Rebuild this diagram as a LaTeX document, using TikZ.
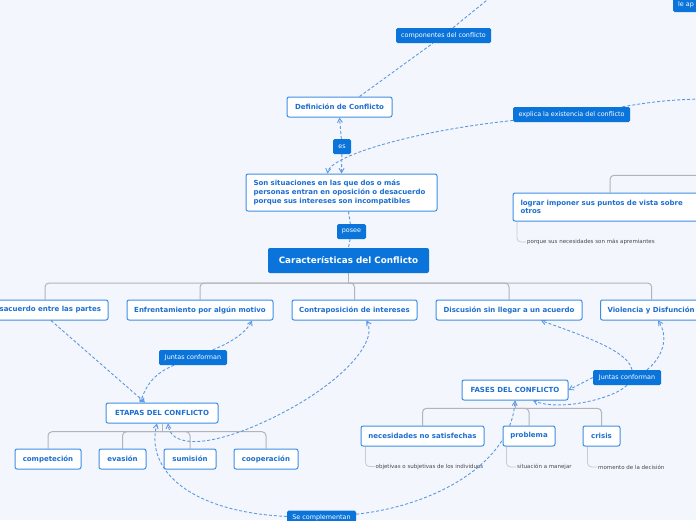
\documentclass[tikz,border=0pt]{standalone}
\usepackage{fontspec}
\setmainfont{DejaVu Sans}
\usepackage{xcolor}
\usepackage{tikz}
\usetikzlibrary{arrows,backgrounds}
\definecolor{bgcol}{RGB}{243,246,253}
\definecolor{boxblue}{RGB}{10,116,218}
\definecolor{edgeblue}{RGB}{60,142,230}
\definecolor{txtblue}{RGB}{28,110,208}
\definecolor{linkblue}{RGB}{92,152,226}
\definecolor{treegray}{RGB}{178,180,186}
\definecolor{subgray}{RGB}{70,72,80}

\begin{document}
\begin{tikzpicture}[x=1pt,y=-1pt,>=angle 60,
  topic/.style={draw=edgeblue,line width=1pt,fill=white,rounded corners=2pt,text=txtblue,
    font=\fontsize{7}{8.7}\selectfont\bfseries,minimum height=20pt,inner sep=0pt},
  main/.style={fill=boxblue,rounded corners=2pt,text=white,
    font=\fontsize{8.8}{10}\selectfont\bfseries,minimum height=25pt,inner sep=0pt},
  tag/.style={fill=boxblue,rounded corners=1.5pt,text=white,
    font=\fontsize{6.4}{7}\selectfont,minimum height=15pt,inner sep=0pt},
  note/.style={text=subgray,font=\fontsize{5.5}{6}\selectfont,anchor=west,inner sep=1pt},
  branch/.style={draw=treegray,line width=1pt,rounded corners=4pt},
  twig/.style={draw=treegray!70,line width=0.8pt,rounded corners=4pt},
  link/.style={draw=linkblue,line width=0.9pt,dash pattern=on 3pt off 2pt}]
          \useasboundingbox (0,0) rectangle (696,520);

          \node[topic,minimum width=105pt] (def) at (339.5,107) {Definición de Conflicto};
          \node[topic,minimum width=191pt,minimum height=37pt,text width=176pt,align=left] (son) at (341.5,192.5)
            {Son situaciones en las que dos o más\\personas entran en oposición o desacuerdo\\porque sus intereses son incompatibles};
          \node[main,minimum width=161pt] (car) at (348.5,260.5) {Características del Conflicto};
          \node[topic,minimum width=197pt,minimum height=28pt,text width=182pt,align=left] (log) at (611.5,207)
            {lograr imponer sus puntos de vista sobre\\otros};
          \node[note] (por) at (526,242) {porque sus necesidades son más apremiantes};

          \node[topic,minimum width=126pt] (des) at (45,310) {Desacuerdo entre las partes};
          \node[topic,minimum width=146pt] (enf) at (200,310) {Enfrentamiento por algún motivo};
          \node[topic,minimum width=125pt] (con) at (354.5,310) {Contraposición de intereses};
          \node[topic,minimum width=146pt] (dis) at (509,310) {Discusión sin llegar a un acuerdo};
          \node[topic,anchor=west,inner xsep=7pt] (vio) at (600,310) {Violencia y Disfunción};

          \node[topic,minimum width=112pt] (eta) at (162,413) {ETAPAS DEL CONFLICTO};
          \node[topic,minimum width=66pt] (com) at (48,459) {competeción};
          \node[topic,minimum width=47pt] (eva) at (122.5,459) {evasión};
          \node[topic,minimum width=52pt] (sum) at (190,459) {sumisión};
          \node[topic,minimum width=64pt] (coo) at (266,459) {cooperación};

          \node[topic,minimum width=106pt] (fas) at (515,390) {FASES DEL CONFLICTO};
          \node[topic,minimum width=123pt] (nec) at (422.5,436) {necesidades no satisfechas};
          \node[topic,minimum width=52pt] (pro) at (529,436) {problema};
          \node[topic,minimum width=37pt] (cri) at (601.5,436) {crisis};
          \node[note] (obj) at (374.5,466.5) {objetivas o subjetivas de los individuos};
          \node[note] (sit) at (516,467) {situación a manejar};
          \node[note] (mom) at (597,467) {momento de la decisión};

          \node[tag,minimum width=95pt] (comp) at (443.5,35.5) {componentes del conflicto};
          \node[tag,minimum width=117pt] (expl) at (571.5,114.5) {explica la existencia del conflicto};
          \node[tag,minimum width=18pt] (es) at (342,146.5) {es};
          \node[tag,minimum width=29pt] (pos) at (351.5,231.5) {posee};
          \node[tag,minimum width=68pt] (jun1) at (193,357.5) {Juntas conforman};
          \node[tag,minimum width=68pt] (jun2) at (627,377.5) {Juntas conforman};
          \node[tag,minimum width=69pt] (sec) at (321.5,518) {Se complementan};
          \node[tag,anchor=west,inner xsep=5pt] (leap) at (673,4.5) {le ap};

          \coordinate (compend) at (492,-4);
          \coordinate (explend) at (700,99);
          \coordinate (logpar) at (700,175.3);
          \coordinate (carbar) at (348.5,283);
          \coordinate (etabar) at (162,431.7);
          \coordinate (fasbar) at (515,408.3);

          \begin{scope}[on background layer]
          \fill[bgcol] (0,0) rectangle (696,520);
          \clip (0,0) rectangle (696,520);

          \draw[branch] (car.south) -- (carbar);
          \draw[branch] (carbar) -| (des.north);
          \draw[branch] (carbar) -| (enf.north);
          \draw[branch] (carbar) -| (con.north);
          \draw[branch] (carbar) -| (dis.north);
          \draw[branch] (carbar) -| ([xshift=51.7pt]vio.north west);
          \draw[branch] (eta.south) -- (etabar);
          \draw[branch] (etabar) -| (com.north);
          \draw[branch] (etabar) -| (eva.north);
          \draw[branch] (etabar) -| (sum.north);
          \draw[branch] (etabar) -| (coo.north);
          \draw[branch] (fas.south) -- (fasbar);
          \draw[branch] (fasbar) -| (nec.north);
          \draw[branch] (fasbar) -| (pro.north);
          \draw[branch] (fasbar) -| (cri.north);
          \draw[branch] (logpar) -| ([xshift=-1.5pt]log.north);
          \draw[twig] ([xshift=5pt]nec.south west) |- (obj.west);
          \draw[twig] ([xshift=4pt]pro.south west) |- (sit.west);
          \draw[twig] ([xshift=5pt]cri.south west) |- (mom.west);
          \draw[twig] ([xshift=4.5pt]log.south west) |- (por.west);

          \draw[link] ([xshift=20pt]def.north) -- (comp) -- (compend);
          \draw[link] (explend) .. controls (660,100) and (640,104) .. (expl);
          \draw[link,->] (expl) .. controls (420,130) and (330,155) .. ([xshift=-14pt]son.north);
          \draw[link,->] (es) -- (def.south);
          \draw[link,->] (es) -- (son.north);
          \draw[link] ([xshift=7pt]son.south) -- (pos) -- (car.north);
          \draw[link,->] ([xshift=6pt]des.south) -- ([xshift=-17pt]eta.north);
          \draw[link,->] (jun1) .. controls (225,345) and (245,335) .. ([xshift=52pt]enf.south);
          \draw[link,->] (jun1) .. controls (150,375) and (145,390) .. ([xshift=-22pt]eta.north);
          \draw[link,<->] ([xshift=12pt]con.south) .. controls (380,345) and (330,395) .. (250,428)
            .. controls (200,448) and (170,445) .. ([xshift=6pt]eta.south);
          \draw[link,->] (sec) .. controls (190,512) and (145,470) .. ([xshift=-5pt]eta.south);
          \draw[link,->] (sec) .. controls (440,505) and (512,460) .. (fas.south);
          \draw[link,->] ([xshift=5pt]jun2.north) .. controls (628,350) and (580,335) .. ([xshift=32pt]dis.south);
          \draw[link,->] ([xshift=20pt]jun2.north) .. controls (665,355) and (668,335) .. ([xshift=58pt]vio.south west);
          \draw[link,->] (jun2.west) -- (fas.east);
          \draw[link,->] (jun2.south) .. controls (615,398) and (560,412) .. ([xshift=18pt]fas.south);
          \end{scope}
        \end{tikzpicture}
\end{document}
